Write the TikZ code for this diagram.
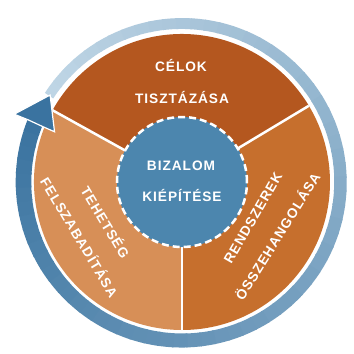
\documentclass[tikz,border=0pt]{standalone}
\usepackage{fontspec}
\setmainfont{Liberation Sans}[LetterSpace=7]
\usepackage{tikz}
\usetikzlibrary{shapes.geometric, arrows}
\definecolor{topc}{HTML}{B4571F}
\definecolor{rightc}{HTML}{C66F2D}
\definecolor{leftc}{HTML}{D78F57}
\definecolor{corec}{HTML}{4C86AE}
\definecolor{ringdark}{HTML}{3A73A0}
\definecolor{ringlight}{HTML}{BED5E5}
\tikzstyle{wtext} = [text=white, font=\bfseries\fontsize{13.7}{15}\selectfont, inner sep=0pt]
\tikzstyle{divider} = [draw=white, line width=2.5pt]
\tikzstyle{core} = [circle, fill=corec, draw=white, line width=2.5pt, dash pattern=on 7pt off 4pt, minimum size=130pt, inner sep=0pt]

\begin{document}
\begin{tikzpicture}[x=1pt, y=1pt]
\useasboundingbox[fill=white] (-182,-172) rectangle (172,182);
\coordinate (c) at (0,0);
\coordinate (d1) at (31:148);
\coordinate (d2) at (151:148);
\coordinate (d3) at (270:148);

% ring, thin and light at the tail, thick and dark at the head
\foreach \a in {147,142,...,-198} {
  \pgfmathtruncatemacro{\t}{(147-\a)/3.45}
  \pgfmathsetmacro{\w}{10+0.06*\t}
  \draw[ringdark!\t!ringlight, line width=\w pt] (\a:158.5) arc[start angle=\a, end angle=\a-5.6, radius=158.5];
}

% sectors
\fill[topc] (c) -- (d1) arc[start angle=31, end angle=151, radius=148] -- cycle;
\fill[rightc] (c) -- (d3) arc[start angle=-90, end angle=31, radius=148] -- cycle;
\fill[leftc] (c) -- (d2) arc[start angle=151, end angle=270, radius=148] -- cycle;
\draw[divider] (c) -- (d1);
\draw[divider] (c) -- (d2);
\draw[divider] (c) -- (d3);

% arrow head
\filldraw[fill=ringdark, draw=white, line width=1.2pt] (146.6:158) -- (158:181) -- (158:166) -- (158.3:150) -- (158.5:137) -- cycle;

\node (mid) [core] at (c) {};

\node (t1) [wtext] at (-1,117) {CÉLOK};
\node (t2) [wtext] at (0,85) {TISZTÁZÁSA};
\node (m1) [wtext] at (-1,16) {BIZALOM};
\node (m2) [wtext] at (0,-13) {KIÉPÍTÉSE};
\node (r1) [wtext, rotate=60] at (71,-36) {RENDSZEREK};
\node (r2) [wtext, rotate=58] at (95,-54) {ÖSSZEHANGOLÁSA};
\node (l1) [wtext, rotate=-59] at (-76,-40) {TEHETSÉG};
\node (l2) [wtext, rotate=-59] at (-102,-55) {FELSZABADÍTÁSA};
\end{tikzpicture}
\end{document}
